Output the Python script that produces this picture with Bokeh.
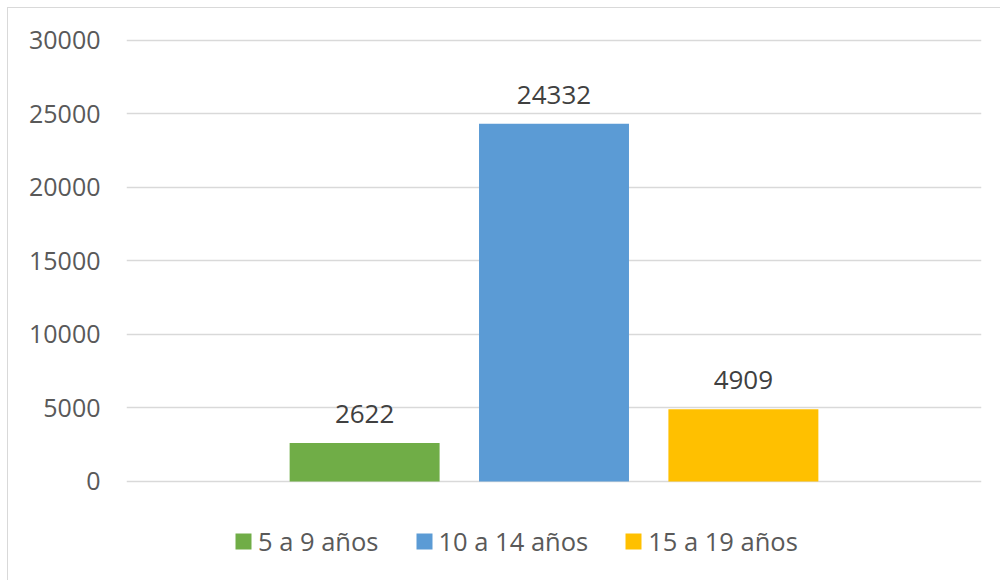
from bokeh.plotting import figure
from bokeh.models import (ColumnDataSource, FactorRange, Range1d, FixedTicker, Legend,
                          LegendItem, LabelSet)
from bokeh.core.properties import value
from bokeh.transform import dodge
from bokeh.embed import file_html
from bokeh.resources import INLINE

categories = ["Total"]
series_names = ["5 a 9 años", "10 a 14 años", "15 a 19 años"]
series_values = [2622, 24332, 4909]
series_colors = ["#70AD47", "#5B9BD5", "#FFC000"]
y_ticks = [0, 5000, 10000, 15000, 20000, 25000, 30000]

FONT = "Open Sans"
TXT = "#595959"

# frame extended downward so the legend can sit inside it (below the zero line)
p = figure(width=993, height=573, x_range=FactorRange(*categories, range_padding=0),
           y_range=Range1d(-6803, 30136), output_backend="svg", toolbar_location=None,
           min_border_left=118, min_border_right=20, min_border_top=30, min_border_bottom=0)
p.styles = {"margin-left": "7px", "margin-top": "7px",
            "border-left": "1px solid #d9d9d9", "border-top": "1px solid #d9d9d9"}
p.outline_line_color = None
p.xaxis.visible = False
p.xgrid.visible = False
p.ygrid.grid_line_color = "#d9d9d9"
p.ygrid.grid_line_width = 1.5
p.ygrid.ticker = FixedTicker(ticks=y_ticks)
p.yaxis.ticker = FixedTicker(ticks=y_ticks)
p.yaxis.axis_line_color = None
p.yaxis.major_tick_line_color = None
p.yaxis.minor_tick_line_color = None
p.yaxis.major_tick_out = 0
p.yaxis.major_label_standoff = 26
p.yaxis.major_label_text_font = FONT
p.yaxis.major_label_text_font_size = "25px"
p.yaxis.major_label_text_color = TXT

offsets = [-0.2215, 0.0, 0.2215]
bar_w = 0.1754
items = []
for name, val, col, off in zip(series_names, series_values, series_colors, offsets):
    src = ColumnDataSource(dict(cat=categories, v=[val], lbl=[str(val)]))
    r = p.vbar(x=dodge("cat", off, range=p.x_range), top="v", bottom=0, width=bar_w,
               source=src, fill_color=col, line_color=None)
    items.append(LegendItem(label=name, renderers=[r]))
    p.add_layout(LabelSet(x=dodge("cat", off, range=p.x_range), y="v", text="lbl", source=src,
                          text_align="center", text_baseline="alphabetic", y_offset=20,
                          text_font=value(FONT), text_font_size=value("26px"),
                          text_color="#404040"))

legend = Legend(items=items, orientation="horizontal", location=(107, 23),
                label_text_font=FONT, label_text_font_size="25.5px", label_text_color=TXT,
                glyph_width=20, glyph_height=20, label_standoff=5, spacing=35,
                padding=0, margin=0, border_line_color=None, background_fill_alpha=0)
p.add_layout(legend, "center")

open("out.html", "w").write(file_html(p, INLINE))
